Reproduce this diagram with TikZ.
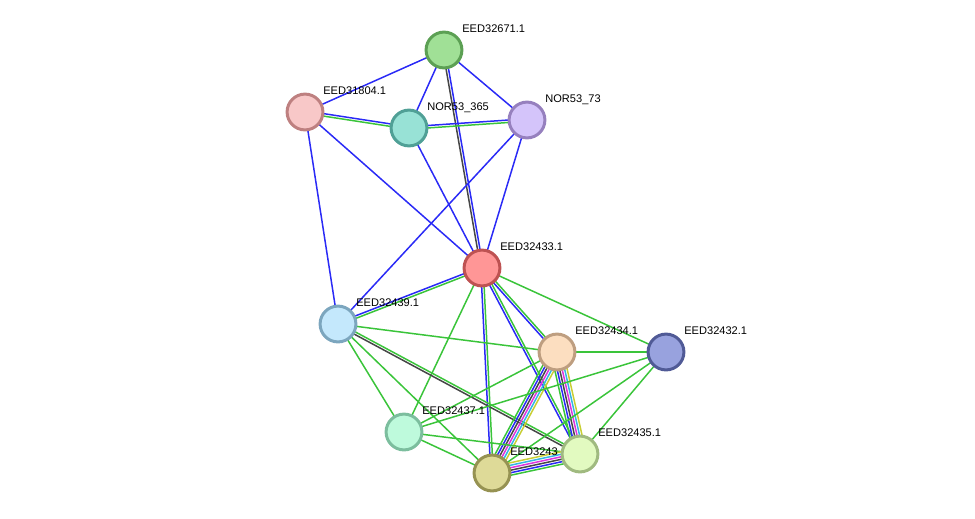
\documentclass[tikz,border=0pt]{standalone}
\usepackage{fontspec}
\setmainfont{Liberation Sans}
\usetikzlibrary{calc}
\pgfdeclarelayer{bg}
\pgfsetlayers{bg,main}
% link colours
\definecolor{lgreen}{RGB}{58,196,58}
\definecolor{lblue}{RGB}{42,42,246}
\definecolor{lblack}{RGB}{70,70,70}
\definecolor{lmag}{RGB}{222,52,222}
\definecolor{lcyan}{RGB}{52,182,228}
\definecolor{lyel}{RGB}{200,206,52}
% protein colours (fill / rim)
\definecolor{f32671}{RGB}{160,224,150}\definecolor{d32671}{RGB}{92,160,84}
\definecolor{f31804}{RGB}{248,200,200}\definecolor{d31804}{RGB}{190,128,128}
\definecolor{f365}{RGB}{152,226,214}\definecolor{d365}{RGB}{80,160,150}
\definecolor{f73}{RGB}{212,196,250}\definecolor{d73}{RGB}{150,128,190}
\definecolor{f32433}{RGB}{255,150,150}\definecolor{d32433}{RGB}{190,82,82}
\definecolor{f32439}{RGB}{196,232,252}\definecolor{d32439}{RGB}{124,166,190}
\definecolor{f32434}{RGB}{252,222,192}\definecolor{d32434}{RGB}{190,158,128}
\definecolor{f32432}{RGB}{152,162,222}\definecolor{d32432}{RGB}{80,90,150}
\definecolor{f32437}{RGB}{190,250,220}\definecolor{d32437}{RGB}{124,190,158}
\definecolor{f32436}{RGB}{222,218,152}\definecolor{d32436}{RGB}{150,146,82}
\definecolor{f32435}{RGB}{226,250,192}\definecolor{d32435}{RGB}{160,186,128}
% parallel links between two nodes, one line per colour
\newcommand\links[3]{%
  \foreach \c [count=\k] in {#3} {\xdef\nlinks{\k}}%
  \foreach \c [count=\k] in {#3} {%
    \pgfmathsetmacro\off{(\k-(\nlinks+1)/2)*1.4}%
    \draw[lk, \c] ($(#1.center)!\off pt!90:(#2.center)$) -- ($(#2.center)!\off pt!-90:(#1.center)$);
  }}
\begin{document}
\begin{tikzpicture}[x=0.02cm, y=-0.02cm,
   lk/.style={line width=0.85pt},
   pn/.style 2 args={circle, fill=#1, draw=#2, line width=1.7pt, minimum size=20.4pt, inner sep=0pt},
   lbl/.style={anchor=base west, inner sep=0pt, font=\fontsize{6.3}{7}\selectfont}]
  \useasboundingbox (0,0) rectangle (975,518);
  % proteins, top group
  \node[pn={f32671}{d32671}] (e32671) at (444,50) {};
  \node[lbl] (t32671) at ([shift={(18,-18)}]e32671.center) {EED32671.1};
  \node[pn={f31804}{d31804}] (e31804) at (305,112) {};
  \node[lbl] (t31804) at ([shift={(18,-18)}]e31804.center) {EED31804.1};
  \node[pn={f365}{d365}] (n365) at (409,128) {};
  \node[lbl] (t365) at ([shift={(18,-18)}]n365.center) {NOR53\_365};
  \node[pn={f73}{d73}] (n73) at (527,120) {};
  \node[lbl] (t73) at ([shift={(18,-18)}]n73.center) {NOR53\_73};
  % proteins, middle and bottom
  \node[pn={f32433}{d32433}] (e32433) at (482,268) {};
  \node[lbl] (t32433) at ([shift={(18,-18)}]e32433.center) {EED32433.1};
  \node[pn={f32439}{d32439}] (e32439) at (338,324) {};
  \node[lbl] (t32439) at ([shift={(18,-18)}]e32439.center) {EED32439.1};
  \node[pn={f32434}{d32434}] (e32434) at (557,352) {};
  \node[lbl] (t32434) at ([shift={(18,-18)}]e32434.center) {EED32434.1};
  \node[pn={f32432}{d32432}] (e32432) at (666,352) {};
  \node[lbl] (t32432) at ([shift={(18,-18)}]e32432.center) {EED32432.1};
  \node[pn={f32437}{d32437}] (e32437) at (404,432) {};
  \node[lbl] (t32437) at ([shift={(18,-18)}]e32437.center) {EED32437.1};
  \node[pn={f32436}{d32436}] (e32436) at (492,473) {};
  \node[lbl] (t32436) at ([shift={(18,-18)}]e32436.center) {EED3243};
  \node[pn={f32435}{d32435}] (e32435) at (580,454) {};
  \node[lbl] (t32435) at ([shift={(18,-18)}]e32435.center) {EED32435.1};
  % links
  \begin{pgfonlayer}{bg}
    \links{e32671}{e31804}{lblue}
    \links{e32671}{n365}{lblue}
    \links{e32671}{n73}{lblue}
    \links{e32671}{e32433}{lblack,lblue}
    \links{e31804}{n365}{lgreen,lblue}
    \links{e31804}{e32433}{lblue}
    \links{e31804}{e32439}{lblue}
    \links{n365}{n73}{lgreen,lblue}
    \links{n365}{e32433}{lblue}
    \links{n73}{e32433}{lblue}
    \links{n73}{e32439}{lblue}
    \links{e32433}{e32439}{lblue,lgreen}
    \links{e32433}{e32434}{lblue,lgreen}
    \links{e32433}{e32432}{lgreen}
    \links{e32433}{e32437}{lgreen}
    \links{e32433}{e32436}{lblue,lgreen}
    \links{e32433}{e32435}{lblue,lgreen}
    \links{e32439}{e32434}{lgreen}
    \links{e32439}{e32437}{lgreen}
    \links{e32439}{e32436}{lgreen}
    \links{e32439}{e32435}{lblack,lgreen}
    \links{e32434}{e32432}{lgreen}
    \links{e32434}{e32437}{lgreen}
    \links{e32434}{e32436}{lgreen,lblue,lblack,lmag,lcyan,lyel}
    \links{e32434}{e32435}{lgreen,lblue,lblack,lmag,lcyan,lyel}
    \links{e32432}{e32437}{lgreen}
    \links{e32432}{e32436}{lgreen}
    \links{e32432}{e32435}{lgreen}
    \links{e32437}{e32436}{lgreen}
    \links{e32437}{e32435}{lgreen}
    \links{e32436}{e32435}{lgreen,lblue,lblack,lmag,lcyan,lyel}
  \end{pgfonlayer}
\end{tikzpicture}
\end{document}
